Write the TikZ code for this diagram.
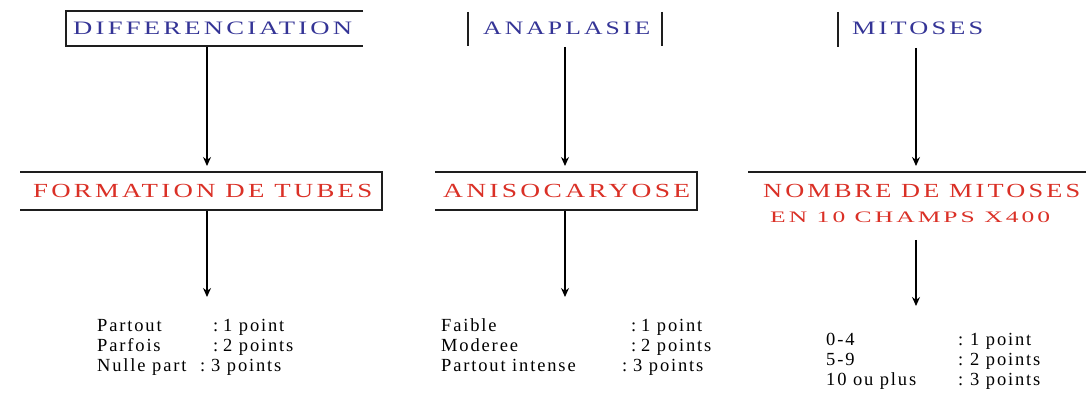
\documentclass[tikz,border=0pt]{standalone}
\usepackage{graphicx}
\usepackage{fontspec}
\setmainfont{Liberation Serif}
\usetikzlibrary{arrows.meta}
\definecolor{titleblue}{RGB}{52,52,150}
\definecolor{headred}{RGB}{218,48,38}
\definecolor{rule}{RGB}{30,30,30}
% stretch a line of text to a given width, keeping its height
\newcommand\fitw[2]{\resizebox{#1}{\height}{\addfontfeature{LetterSpace=12}#2}}
\begin{document}
\begin{tikzpicture}[x=1pt,y=-1pt,
  frame/.style={line width=1.6pt, draw=rule},
  arr/.style={line width=1.3pt, draw=black, -{Stealth[length=9pt,width=8pt]}},
  titletxt/.style={anchor=base west, inner sep=0pt, text=titleblue,
    font=\fontsize{19}{19}\selectfont},
  headtxt/.style={anchor=base west, inner sep=0pt, text=headred,
    font=\fontsize{20}{20}\selectfont},
  listtxt/.style={anchor=base west, inner sep=0pt,
    font=\fontsize{18.5}{18.5}\selectfont\addfontfeature{LetterSpace=10}}]
\useasboundingbox (0,0) rectangle (1086,403);

% ---- top row: criteria ----
\node[titletxt] (t1) at (73,35) {\fitw{279pt}{DIFFERENCIATION}};
\node[titletxt] (t2) at (483,35) {\fitw{167pt}{ANAPLASIE}};
\node[titletxt] (t3) at (852,35) {\fitw{131pt}{MITOSES}};
\draw[frame] (363,11) -- (66,11) -- (66,46) -- (363,46);
\draw[frame] (468,12) -- (468,46);
\draw[frame] (662,12) -- (662,46);
\draw[frame] (838,12) -- (838,47);

% ---- middle row: what is measured ----
\node[headtxt] (h1) at (33,198) {\fitw{339pt}{FORMATION DE TUBES}};
\draw[frame] (20,172) -- (382,172) -- (382,210) -- (20,210);
\node[headtxt] (h2) at (443,198) {\fitw{247pt}{ANISOCARYOSE}};
\draw[frame] (435,172) -- (697,172) -- (697,210) -- (435,210);
\node[headtxt] (h3) at (763,198) {\fitw{317pt}{NOMBRE DE MITOSES}};
\node[headtxt, font=\fontsize{16}{16}\selectfont] (h3b) at (770,223)
  {\fitw{280pt}{EN 10 CHAMPS X400}};
\draw[frame] (748,172) -- (1086,172);

% ---- arrow end points ----
\coordinate (a1s) at (207,47);  \coordinate (a1e) at (207,166);
\coordinate (b1s) at (207,211); \coordinate (b1e) at (207,297);
\coordinate (a2s) at (565,47);  \coordinate (a2e) at (565,166);
\coordinate (b2s) at (565,211); \coordinate (b2e) at (565,297);
\coordinate (a3s) at (916,48);  \coordinate (a3e) at (916,166);
\coordinate (b3s) at (916,240); \coordinate (b3e) at (916,306);
\draw[arr] (a1s) -- (a1e);
\draw[arr] (b1s) -- (b1e);
\draw[arr] (a2s) -- (a2e);
\draw[arr] (b2s) -- (b2e);
\draw[arr] (a3s) -- (a3e);
\draw[arr] (b3s) -- (b3e);

% ---- scores ----
\node[listtxt] (p1) at (97,331) {Partout};
\node[listtxt] (p1c) at (213,331) {:};
\node[listtxt] (p1v) at (223,331) {1 point};
\node[listtxt] (p2) at (97,351) {Parfois};
\node[listtxt] (p2c) at (213,351) {:};
\node[listtxt] (p2v) at (223,351) {2 points};
\node[listtxt] (p3) at (97,371) {Nulle part};
\node[listtxt] (p3c) at (200,371) {:};
\node[listtxt] (p3v) at (211,371) {3 points};

\node[listtxt] (q1) at (441,331) {Faible};
\node[listtxt] (q1c) at (631,331) {:};
\node[listtxt] (q1v) at (641,331) {1 point};
\node[listtxt] (q2) at (441,351) {Moderee};
\node[listtxt] (q2c) at (631,351) {:};
\node[listtxt] (q2v) at (641,351) {2 points};
\node[listtxt] (q3) at (441,371) {Partout intense};
\node[listtxt] (q3c) at (622,371) {:};
\node[listtxt] (q3v) at (633,371) {3 points};

\node[listtxt] (r1) at (826,345) {0-4};
\node[listtxt] (r1c) at (958,345) {:};
\node[listtxt] (r1v) at (970,345) {1 point};
\node[listtxt] (r2) at (826,365) {5-9};
\node[listtxt] (r2c) at (958,365) {:};
\node[listtxt] (r2v) at (970,365) {2 points};
\node[listtxt] (r3) at (826,385) {10 ou plus};
\node[listtxt] (r3c) at (958,385) {:};
\node[listtxt] (r3v) at (970,385) {3 points};
\end{tikzpicture}
\end{document}
